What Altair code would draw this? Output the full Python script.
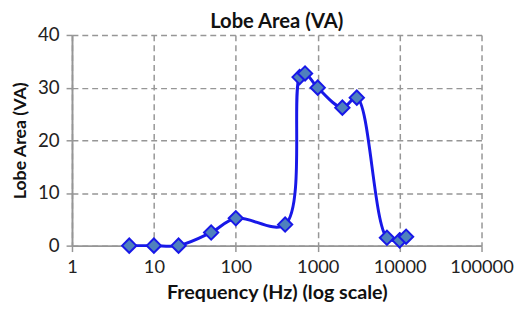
import altair as alt
import pandas as pd

freq = [5, 10, 20, 50, 100, 400, 600, 700, 1000, 2000, 3000, 7000, 10000, 12000]
lobe_area = [0, 0, 0, 2.5, 5.2, 4.0, 32.0, 32.7, 30.0, 26.2, 28.1, 1.5, 1.0, 1.7]
x_ticks = [1, 10, 100, 1000, 10000, 100000]
y_ticks = [0, 10, 20, 30, 40]

df = pd.DataFrame({"freq": freq, "va": lobe_area})

FONT = "Lato"
GRAY = "#969696"

x = alt.X("freq:Q",
          scale=alt.Scale(type="log", domain=[1, 100000], nice=False),
          axis=alt.Axis(values=x_ticks, format="d", title="Frequency (Hz) (log scale)",
                        grid=True, gridDash=[6, 4], gridColor=GRAY, gridWidth=1.5,
                        domainColor=GRAY, domainWidth=2, tickColor=GRAY, tickWidth=1.5,
                        tickSize=6, labelPadding=6, titlePadding=7,
                        labelFontSize=18.5, labelColor="#222", labelFont=FONT,
                        titleFont=FONT, titleFontSize=20, titleFontWeight="bold",
                        titleColor="#111", labelFlush=False))
y = alt.Y("va:Q",
          scale=alt.Scale(domain=[0, 40], nice=False),
          axis=alt.Axis(values=y_ticks, title="Lobe Area (VA)",
                        grid=True, gridDash=[6, 4], gridColor=GRAY, gridWidth=1.5,
                        domainColor=GRAY, domainWidth=2, tickColor=GRAY, tickWidth=1.5,
                        tickSize=6, labelPadding=7, titlePadding=8,
                        labelFontSize=19, labelColor="#222", labelFont=FONT,
                        titleFont=FONT, titleFontSize=18, titleFontWeight="bold",
                        titleColor="#111"))

line = alt.Chart(df).mark_line(interpolate="catmull-rom", color="#1818e8", strokeWidth=3).encode(x=x, y=y)
pts = alt.Chart(df).mark_point(shape="diamond", size=210, filled=True, fill="#4f81bd",
                               stroke="#1818e8", strokeWidth=2, opacity=1).encode(x=x, y=y)

chart = alt.layer(line, pts).properties(
    width=416, height=214,
    title=alt.TitleParams("Lobe Area (VA)", font=FONT, fontSize=20.5, fontWeight="bold",
                          color="#111", anchor="middle", frame="group", offset=-6),
    autosize=alt.AutoSizeParams(type="none"),
    padding={"left": 65, "top": 25, "right": 34, "bottom": 64},
).configure_view(stroke=None)

chart.save("out.html", embed_options={"renderer": "svg", "actions": False})
